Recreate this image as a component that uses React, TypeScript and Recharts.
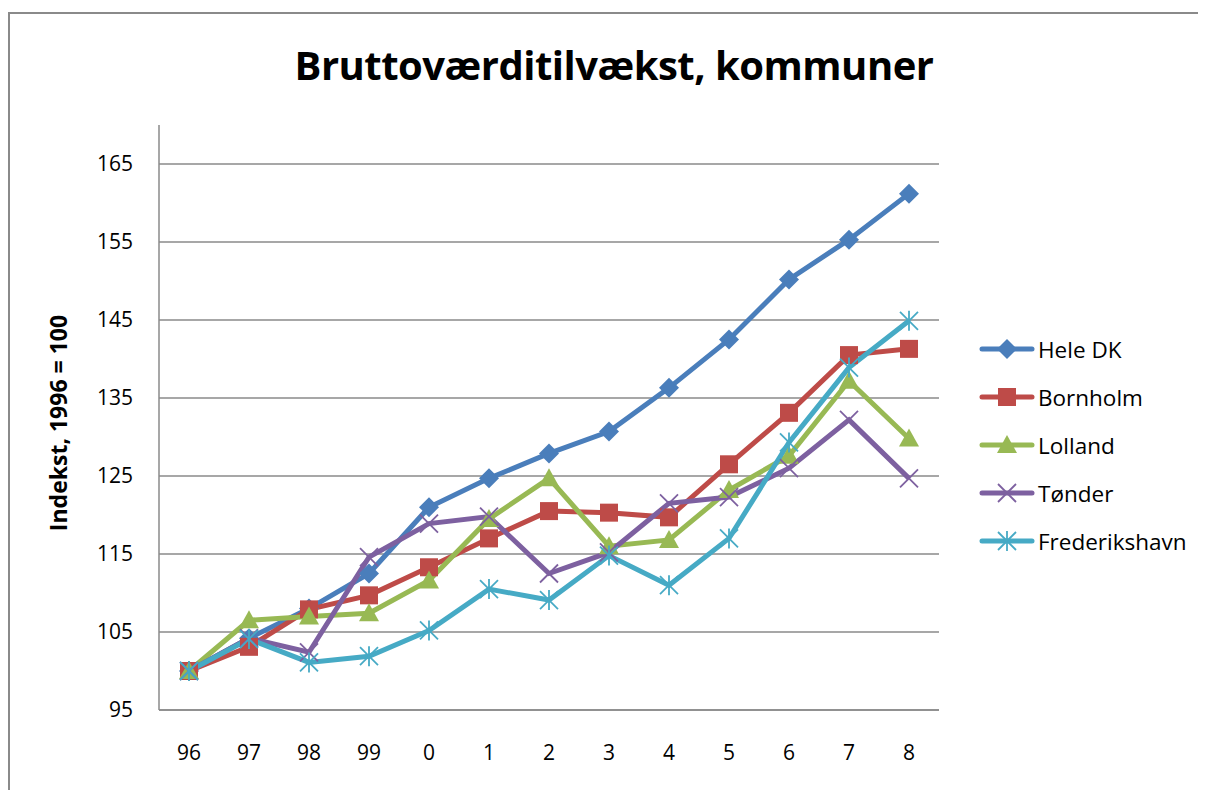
import React from 'react';
import { LineChart, Line, XAxis, YAxis, CartesianGrid } from 'recharts';

const years = ['96', '97', '98', '99', '0', '1', '2', '3', '4', '5', '6', '7', '8'];
const heleDK = [100, 104.2, 108, 112.5, 121, 124.7, 127.9, 130.7, 136.3, 142.5, 150.2, 155.3, 161.2];
const bornholm = [100, 103.1, 107.9, 109.7, 113.3, 117.0, 120.5, 120.3, 119.7, 126.5, 133.1, 140.5, 141.3];
const lolland = [100, 106.5, 107.0, 107.4, 111.6, 119.5, 124.7, 116.0, 116.8, 123.2, 127.6, 137.2, 129.8];
const toender = [100, 104.2, 102.4, 114.6, 118.9, 119.8, 112.5, 115.2, 121.5, 122.3, 126.0, 132.2, 124.7];
const frederikshavn = [100, 104.1, 101.1, 101.9, 105.2, 110.5, 109.1, 114.8, 111.0, 117.0, 129.3, 138.9, 144.9];
const yTicks = [95, 105, 115, 125, 135, 145, 155, 165];

const FONT = '"Open Sans", Lato, sans-serif';
const GRID = '#8a8a8a';

type Shape = 'diamond' | 'square' | 'triangle' | 'x' | 'star';

const series: { key: string; name: string; color: string; shape: Shape; values: number[] }[] = [
  { key: 'hele', name: 'Hele DK', color: '#4A7EBB', shape: 'diamond', values: heleDK },
  { key: 'born', name: 'Bornholm', color: '#BE4B48', shape: 'square', values: bornholm },
  { key: 'loll', name: 'Lolland', color: '#98B954', shape: 'triangle', values: lolland },
  { key: 'toen', name: 'Tønder', color: '#7D60A0', shape: 'x', values: toender },
  { key: 'fred', name: 'Frederikshavn', color: '#46AAC5', shape: 'star', values: frederikshavn },
];

const data = years.map((year, i) => {
  const row: Record<string, any> = { year };
  series.forEach((s) => (row[s.key] = s.values[i]));
  return row;
});

function Marker({ cx, cy, shape, color }: { cx: number; cy: number; shape: Shape; color: string }) {
  if (cx == null || cy == null) return null;
  const r = 10;
  switch (shape) {
    case 'diamond':
      return <polygon points={`${cx},${cy - r} ${cx + r},${cy} ${cx},${cy + r} ${cx - r},${cy}`} fill={color} />;
    case 'square':
      return <rect x={cx - 9} y={cy - 9} width={18} height={18} fill={color} />;
    case 'triangle':
      return <polygon points={`${cx},${cy - 10} ${cx + 10},${cy + 8} ${cx - 10},${cy + 8}`} fill={color} />;
    case 'x':
      return (
        <g stroke={color} strokeWidth={1.8}>
          <line x1={cx - 9} y1={cy - 9} x2={cx + 9} y2={cy + 9} />
          <line x1={cx - 9} y1={cy + 9} x2={cx + 9} y2={cy - 9} />
        </g>
      );
    case 'star':
      return (
        <g stroke={color} strokeWidth={1.8}>
          <line x1={cx - 9} y1={cy - 9} x2={cx + 9} y2={cy + 9} />
          <line x1={cx - 9} y1={cy + 9} x2={cx + 9} y2={cy - 9} />
          <line x1={cx} y1={cy - 10} x2={cx} y2={cy + 10} />
        </g>
      );
  }
  return null;
}

// only the tick gridlines, not the top edge of the plot (170)
const gridRows = ({ offset }: any) => {
  const top = offset.top;
  const h = offset.height;
  return yTicks.map((t) => top + h - ((t - 95) / (170 - 95)) * h);
};

export default function App() {
  return (
    <div style={{ position: 'relative', width: 1198, height: 782, fontFamily: FONT, overflow: 'hidden' }}>
      <div
        style={{
          position: 'absolute',
          left: 0,
          top: 4,
          width: 1300,
          height: 900,
          borderLeft: `2px solid ${GRID}`,
          borderTop: `2px solid ${GRID}`,
        }}
      />
      <LineChart width={1198} height={782} data={data} margin={{ top: 117, right: 267, left: 0, bottom: 0 }}>
        <CartesianGrid vertical={false} stroke={GRID} strokeWidth={1.5} horizontalCoordinatesGenerator={gridRows} />
        <XAxis
          dataKey="year"
          height={80}
          padding={{ left: 30, right: 30 }}
          stroke={GRID}
          strokeWidth={1.5}
          tickLine={false}
          tickSize={0}
          tickMargin={35}
          tick={{ fill: '#000', fontSize: 21, fontFamily: FONT }}
        />
        <YAxis
          width={151}
          domain={[95, 170]}
          ticks={yTicks}
          interval={0}
          stroke={GRID}
          strokeWidth={1.5}
          tickLine={false}
          tickSize={0}
          tickMargin={26}
          tick={{ fill: '#000', fontSize: 21, fontFamily: FONT }}
        />
        {series.map((s) => (
          <Line
            key={s.key}
            dataKey={s.key}
            name={s.name}
            stroke={s.color}
            strokeWidth={5}
            isAnimationActive={false}
            dot={(p: any) => <Marker key={`${s.key}-${p.index}`} cx={p.cx} cy={p.cy} shape={s.shape} color={s.color} />}
            activeDot={false}
          />
        ))}
      </LineChart>
      <div
        style={{
          position: 'absolute',
          left: 0,
          width: 1212,
          top: 31,
          textAlign: 'center',
          fontSize: 40,
          fontWeight: 'bold',
          lineHeight: '52px',
          letterSpacing: -0.5,
        }}
      >
        Bruttoværditilvækst, kommuner
      </div>
      <div
        style={{
          position: 'absolute',
          left: 50,
          top: 415,
          transform: 'translate(-50%, -50%) rotate(-90deg)',
          fontSize: 23,
          fontWeight: 'bold',
          whiteSpace: 'nowrap',
        }}
      >
        Indekst, 1996 = 100
      </div>
      <div style={{ position: 'absolute', left: 970, top: 317 }}>
        {series.map((s) => (
          <div key={s.key} style={{ display: 'flex', alignItems: 'center', height: 48 }}>
            <svg width={60} height={24}>
              <line x1={4} y1={12} x2={54} y2={12} stroke={s.color} strokeWidth={5} strokeLinecap="round" />
              <Marker cx={29} cy={12} shape={s.shape} color={s.color} />
            </svg>
            <span style={{ fontSize: 22.5, marginLeft: 0 }}>{s.name}</span>
          </div>
        ))}
      </div>
    </div>
  );
}
